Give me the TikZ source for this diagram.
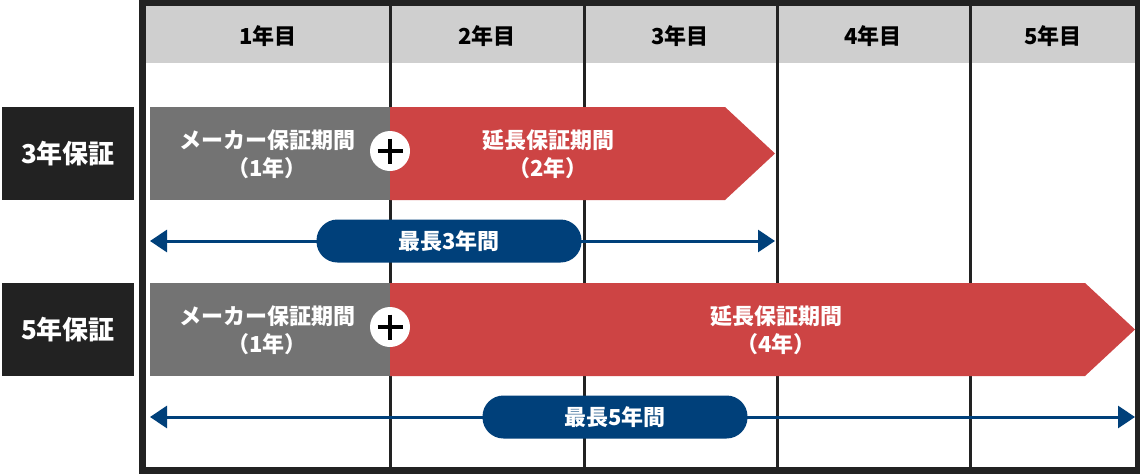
\documentclass[tikz,border=0pt]{standalone}
\usepackage{fontspec}
\setmainfont{Noto Sans CJK JP}
\usepackage{tikz}
\usetikzlibrary{arrows.meta}

\definecolor{frameblack}{HTML}{222222}
\definecolor{headgray}{HTML}{CFCFCF}
\definecolor{makergray}{HTML}{737373}
\definecolor{extrared}{HTML}{CD4444}
\definecolor{spannavy}{HTML}{00407A}

\begin{document}
\begin{tikzpicture}[x=1pt,y=-1pt,
  headtext/.style={font=\bfseries\fontsize{22}{26}\selectfont, text=black},
  sidelabel/.style={fill=frameblack, text=white, minimum width=132pt, minimum height=93pt, inner sep=0pt,
    font=\bfseries\fontsize{26}{30}\selectfont},
  plantext/.style={text=white, align=center, inner sep=0pt, font=\bfseries\fontsize{22}{28}\selectfont},
  pluscircle/.style={circle, fill=white, minimum size=40pt, inner sep=0pt},
  plusbar/.style={black, line width=3.5pt},
  colline/.style={draw=frameblack, line width=3pt},
  span/.style={spannavy, line width=3pt, {Triangle[length=17pt,width=22pt]}-{Triangle[length=17pt,width=22pt]}},
  pill/.style={fill=spannavy, text=white, minimum width=265pt, minimum height=43pt, rounded corners=21pt,
    inner sep=0pt, font=\bfseries\fontsize{22}{26}\selectfont}]

%% all values are pixels of the 1140 x 474 picture (1pt = 1px, y runs down)
%% one plan row is 93 high, the red part has a 50 wide tip

\useasboundingbox (0,0) rectangle (1140,474);

%% frame, header band and year columns
\fill[frameblack] (139,0) rectangle (1140,474);
\fill[white] (146,6) rectangle (1135,467);
\fill[headgray] (146,6) rectangle (1135,63);

\foreach \x in {390,584,777,970}
  \draw[colline] (\x,6) -- (\x,467);

\foreach \i/\x in {1/268,2/487,3/680,4/873,5/1053}
  \node[headtext] (year\i) at (\x,36) {{\i}年目};

%% the two plans: row / top / tip of red part / x of red text / extra years / total years / x of pill
\foreach \r/\ytop/\tip/\rx/\dur/\tot/\pillx in {A/107/775/548/2/3/449, B/283/1135/776/4/5/615} {

  \node[sidelabel] (side\r) at (68,\ytop+46.5) {{\tot}年保証};

  \fill[makergray] (150,\ytop) rectangle (390,\ytop+93);
  \fill[extrared] (390,\ytop) -- (\tip-50,\ytop) -- (\tip,\ytop+46.5)
      -- (\tip-50,\ytop+93) -- (390,\ytop+93) -- cycle;

  \node[plantext] (maker\r) at (267,\ytop+47) {メーカー保証期間\\（1年）};
  \node[plantext] (extra\r) at (\rx,\ytop+47) {延長保証期間\\（{\dur}年）};

  \node[pluscircle] (plus\r) at (390,\ytop+44) {};
  \draw[plusbar] (plus\r.center) ++(-12.5,0) -- ++(25,0);
  \draw[plusbar] (plus\r.center) ++(0,-12.5) -- ++(0,25);

  \coordinate (from\r) at (150,\ytop+134);
  \coordinate (to\r) at (\tip,\ytop+134);
  \draw[span] (from\r) -- (to\r);
  \node[pill] (max\r) at (\pillx,\ytop+134) {最長{\tot}年間};
}

\end{tikzpicture}
\end{document}
